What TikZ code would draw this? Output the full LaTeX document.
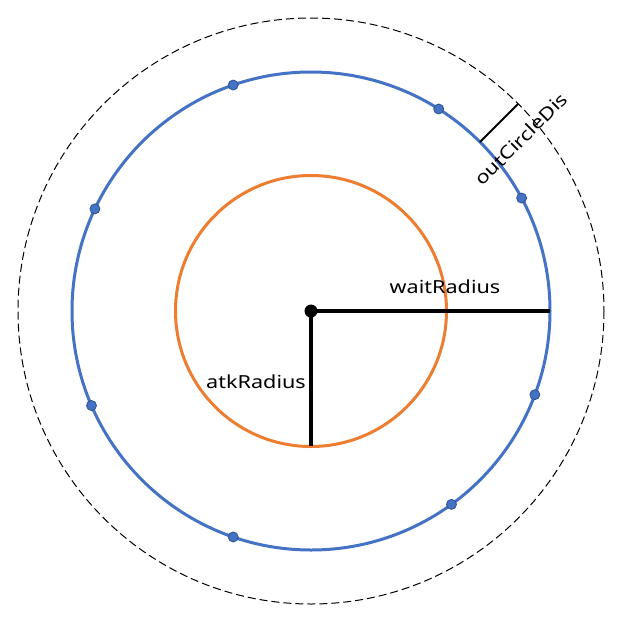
\documentclass[tikz,border=0pt]{standalone}
\usepackage{fontspec}
\setmainfont[FakeStretch=1.2]{Noto Sans}
\usetikzlibrary{calc}
\definecolor{bluec}{HTML}{4472C4}
\definecolor{blued}{HTML}{2F528F}
\definecolor{orangec}{HTML}{ED7D31}
\tikzset{
  ring/.style={line width=3pt},
  radline/.style={line width=3.2pt, black},
  enemy/.style={circle, fill=bluec, draw=blued, line width=0.8pt, inner sep=0pt, minimum size=10pt},
  lbl/.style={font=\fontsize{18}{20}\selectfont, inner sep=0pt}
}
\begin{document}
\begin{tikzpicture}[x=1pt,y=-1pt]
\useasboundingbox (0,0) rectangle (621,625);
\coordinate (c) at (311,311);
\draw[black, line width=1pt, dash pattern=on 8pt off 4pt] (c) circle (293);
\draw[ring, bluec] (c) circle (239);
\draw[ring, orangec] (c) circle (135.5);
\coordinate (wr) at ($(c)+(0:239)$);
\coordinate (ar) at (311,446);
\draw[radline] (c) -- (wr);
\draw[radline] (c) -- (ar);
\node[circle, fill=black, inner sep=0pt, minimum size=13pt] (cd) at (c) {};
\node[lbl] (wl) at (445,287) {waitRadius};
\node[lbl] (al) at (256,382) {atkRadius};
\coordinate (o1) at ($(c)+(-45:239)$);
\coordinate (o2) at ($(c)+(-45:293)$);
\draw[black, line width=2pt] (o1) -- (o2);
\node[lbl, rotate=45] (ol) at (521,139) {outCircleDis};
\foreach \a/\n in {109/e1,57.7/e2,28.2/e3,154.7/e4,203.3/e5,339.5/e6,306/e7,251/e8}
  \node[enemy] (\n) at ($(c)+(-\a:239)$) {};
\end{tikzpicture}
\end{document}
